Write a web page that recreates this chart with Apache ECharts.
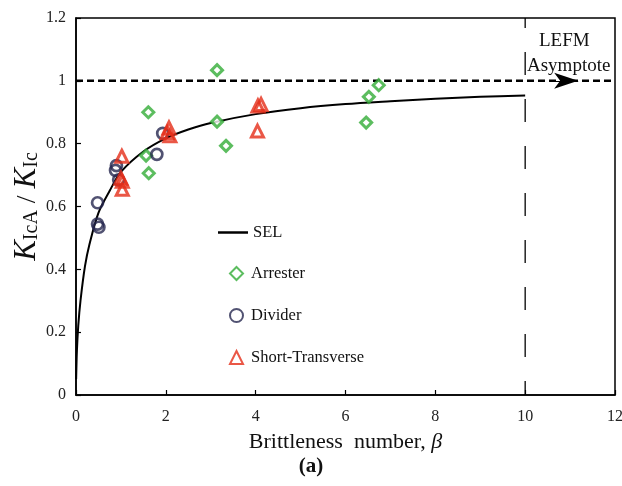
<!DOCTYPE html>
<html>
<head>
<meta charset="utf-8">
<script src="https://cdn.jsdelivr.net/npm/echarts@6/dist/echarts.min.js"></script>
<style>html,body{margin:0;padding:0;background:#fff;}#c{width:622px;height:486px;}</style>
</head>
<body>
<div id="c"></div>
<script>
// SEL curve
const selCurve = [
  [0.003, 0.05], [0.02, 0.14], [0.05, 0.22], [0.1, 0.30], [0.2, 0.41], [0.3, 0.48],
  [0.5, 0.58], [0.75, 0.65], [1, 0.71], [1.5, 0.775], [2, 0.817], [2.5, 0.845],
  [3, 0.866], [4, 0.894], [5, 0.913], [6, 0.926], [7, 0.935], [8, 0.943],
  [9, 0.949], [10, 0.953]
];
const arrester = [
  [3.14, 1.034], [1.61, 0.90], [1.56, 0.762], [1.62, 0.706], [3.14, 0.870],
  [3.34, 0.793], [6.52, 0.949], [6.74, 0.986], [6.46, 0.867]
];
const divider = [
  [0.48, 0.612], [0.48, 0.544], [0.51, 0.534], [0.90, 0.730], [0.88, 0.715],
  [0.95, 0.685], [1.80, 0.766], [1.93, 0.833]
];
const shortTransverse = [
  [1.02, 0.760], [1.00, 0.690], [1.03, 0.680], [1.03, 0.655],
  [2.03, 0.835], [2.07, 0.850], [2.09, 0.825],
  [4.05, 0.920], [4.12, 0.925], [4.04, 0.840]
];
const xTicks = { min: 0, max: 12, interval: 2 };
const yTicks = { min: 0, max: 1.2, interval: 0.2 };
const asymptote = [[0, 1], [12, 1]];
const lefmLine = [[10, 1.2], [10, 0]];

const serif = 'Liberation Serif';
const GREEN = '#33AC37', NAVY = '#25274F', RED = '#E52D18';
const chart = echarts.init(document.getElementById('c'), null, { renderer: 'canvas' });
chart.setOption({
  animation: false,
  backgroundColor: '#fff',
  grid: { left: 76, top: 18, right: 7, bottom: 91, show: true, borderColor: '#000', borderWidth: 1.5, outerBoundsMode: 'none', containLabel: false },
  xAxis: {
    type: 'value', min: xTicks.min, max: xTicks.max, interval: xTicks.interval,
    name: 'Brittleness  number, {b|β}', nameLocation: 'middle', nameGap: 36,
    nameTextStyle: { fontFamily: serif, fontSize: 22, color: '#111', rich: { b: { fontFamily: serif, fontSize: 22, fontStyle: 'italic', color: '#111' } } },
    axisLine: { lineStyle: { color: '#000', width: 1.5 } },
    axisTick: { inside: true, length: 5, lineStyle: { color: '#000', width: 1.2 } },
    axisLabel: { fontFamily: serif, fontSize: 16, color: '#222', margin: 14 },
    splitLine: { show: false }
  },
  yAxis: {
    type: 'value', min: yTicks.min, max: yTicks.max, interval: yTicks.interval,
    name: '{k|K}{s|IcA}{n| / }{k|K}{s|Ic}', nameLocation: 'middle', nameGap: 34, nameRotate: 90,
    nameMoveOverlap: false,
    nameTextStyle: {
      fontFamily: serif, fontSize: 28, color: '#111',
      rich: {
        k: { fontFamily: serif, fontSize: 31, fontStyle: 'italic', color: '#111', lineHeight: 36, verticalAlign: 'bottom' },
        s: { fontFamily: serif, fontSize: 20, color: '#111', lineHeight: 30, verticalAlign: 'bottom' },
        n: { fontFamily: serif, fontSize: 28, color: '#111', lineHeight: 36, verticalAlign: 'bottom' }
      }
    },
    axisLine: { lineStyle: { color: '#000', width: 1.5 } },
    axisTick: { inside: true, length: 5, lineStyle: { color: '#000', width: 1.2 } },
    axisLabel: { fontFamily: serif, fontSize: 16, color: '#222', margin: 10 },
    splitLine: { show: false }
  },
  legend: [
    {
      orient: 'vertical', left: 213, top: 219, itemWidth: 30, itemHeight: 2.5,
      textStyle: { fontFamily: serif, fontSize: 16.5, color: '#111' },
      data: [{ name: 'SEL', icon: 'rect' }]
    },
    {
      orient: 'vertical', left: 224, top: 260, itemWidth: 13, itemHeight: 13, itemGap: 25,
      textStyle: { fontFamily: serif, fontSize: 16.5, color: '#111', padding: [0, 0, 0, 3] },
      data: ['Arrester', 'Divider', 'Short-Transverse']
    }
  ],
  graphic: [
    { type: 'text', left: 539, top: 32, style: { text: 'LEFM', font: '19px "Liberation Serif"', fill: '#111' } },
    { type: 'text', left: 527, top: 57, style: { text: 'Asymptote', font: '19px "Liberation Serif"', fill: '#111' } },
    { type: 'text', left: 'center', top: 456, style: { text: '(a)', font: 'bold 21px "Liberation Serif"', fill: '#111' } }
  ],
  series: [
    {
      name: 'asym', type: 'line', data: asymptote, symbol: 'none', silent: true,
      lineStyle: { color: '#000', width: 2.5, type: [7, 4] }, z: 1,
      markLine: {
        silent: true, symbol: ['none', 'arrow'], symbolSize: [12, 24],
        lineStyle: { color: '#000', width: 1, type: 'solid' }, label: { show: false },
        data: [[{ coord: [10.6, 1] }, { coord: [11.18, 1] }]]
      }
    },
    {
      name: 'lefm', type: 'line', data: lefmLine, symbol: 'none', silent: true,
      lineStyle: { color: '#000', width: 1.3, type: [23, 24], dashOffset: 13 }, z: 1
    },
    {
      name: 'SEL', type: 'line', data: selCurve, smooth: 0.3, symbol: 'none',
      lineStyle: { color: '#000', width: 2 }, itemStyle: { color: '#000' }, z: 2
    },
    {
      name: 'Arrester', type: 'scatter', data: arrester, symbol: 'diamond', symbolSize: 11,
      itemStyle: { color: '#fff', borderColor: GREEN, borderWidth: 3 }, z: 3
    },
    {
      name: 'Divider', type: 'scatter', data: divider, symbol: 'circle', symbolSize: 11,
      itemStyle: { color: 'rgba(255,255,255,0)', borderColor: NAVY, borderWidth: 2.7 }, z: 3
    },
    {
      name: 'Short-Transverse', type: 'scatter', data: shortTransverse, symbol: 'triangle', symbolSize: 12,
      itemStyle: { color: 'rgba(255,255,255,0)', borderColor: RED, borderWidth: 3 }, z: 4
    }
  ]
});
</script>
</body>
</html>
